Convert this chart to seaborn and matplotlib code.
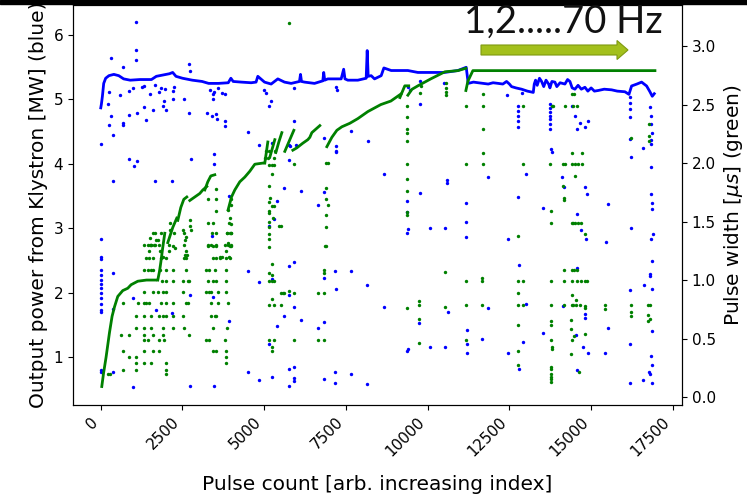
import matplotlib
matplotlib.use("Agg")
import matplotlib.pyplot as plt
from matplotlib.patches import FancyArrow, Rectangle
import pandas as pd
import seaborn as sns

# klystron output power, main track (pulse index, MW)
power_x = [0, 20, 50, 90, 150, 250, 400, 550, 700, 900, 1200, 1550, 1700, 1900, 2100, 2200,
           2300, 2500, 2800, 3100, 3300, 3600, 3900, 3980, 4050, 4300, 4600, 4750, 4804, 5009,
           5212, 5416, 5620, 5824, 6078, 6110, 6140, 6232, 6538, 6793, 6820, 6850, 6946, 7354,
           7430, 7470, 7558, 7864, 8119, 8150, 8180, 8272, 8374, 8578, 8660, 8884, 9394, 9700,
           10108, 10516, 10924, 11179, 11240, 11400, 11546, 11700, 11852, 12000, 12158, 12300,
           12413, 12500, 12566, 12700, 12872, 13050, 13230, 13260, 13300, 13350, 13420, 13485,
           13550, 13620, 13700, 13740, 13800, 13892, 13950, 14050, 14198, 14280, 14351, 14420,
           14504, 14600, 14700, 14810, 14900, 15000, 15100, 15218, 15400, 15626, 15800, 16034,
           16157, 16238, 16400, 16544, 16697, 16799, 16870, 16932]
power_y = [4.87, 4.93, 5.05, 5.25, 5.33, 5.37, 5.39, 5.37, 5.32, 5.30, 5.31, 5.31, 5.36, 5.38,
           5.40, 5.42, 5.36, 5.33, 5.30, 5.28, 5.25, 5.25, 5.26, 5.33, 5.28, 5.27, 5.26, 5.27,
           5.36, 5.27, 5.24, 5.32, 5.27, 5.25, 5.28, 5.39, 5.28, 5.27, 5.25, 5.29, 5.42, 5.30,
           5.32, 5.32, 5.47, 5.32, 5.30, 5.30, 5.33, 5.76, 5.36, 5.37, 5.32, 5.37, 5.49, 5.45,
           5.45, 5.42, 5.42, 5.42, 5.45, 5.50, 5.25, 5.27, 5.26, 5.25, 5.24, 5.26, 5.25, 5.24,
           5.28, 5.24, 5.20, 5.18, 5.16, 5.13, 5.11, 5.24, 5.30, 5.22, 5.33, 5.28, 5.20, 5.30,
           5.24, 5.18, 5.28, 5.27, 5.20, 5.26, 5.24, 5.31, 5.28, 5.18, 5.16, 5.22, 5.16, 5.19,
           5.13, 5.18, 5.13, 5.14, 5.16, 5.15, 5.13, 5.12, 5.08, 5.21, 5.24, 5.27, 5.21, 5.12,
           5.05, 5.09]

# scattered power readings (index, MW)
power_dots_left = [
    (1081, 6.20), (1081, 5.77), (1081, 5.61), (316, 5.65), (673, 5.50), (2693, 5.55), (2744, 5.45),
    (214, 4.93), (245, 5.11), (316, 4.75), (245, 4.61), (673, 4.64), (673, 4.60), (367, 4.45),
    (20, 4.31), (591, 5.07), (857, 5.13), (877, 4.76), (1102, 4.79), (1336, 4.88), (1387, 4.68),
    (1612, 4.84), (1918, 4.90), (1999, 4.84), (2203, 5.01), (1949, 4.98), (1795, 5.11), (1520, 5.08),
    (1336, 5.21), (1969, 5.16), (2203, 5.13), (2560, 5.01), (2693, 4.79), (3244, 4.79), (3407, 4.75),
    (3529, 4.77), (3550, 4.70), (3805, 4.67), (3805, 4.59), (3427, 5.01), (3427, 5.08), (3814, 5.08),
    (4519, 4.50), (4835, 4.30), (3468, 4.15), (3468, 4.00), (2764, 4.07), (877, 4.07), (1010, 3.96),
    (1112, 4.04), (367, 3.73), (1673, 3.74), (2183, 3.74), (3937, 3.50), (1000, 5.18), (1250, 5.20),
    (1650, 5.22), (1850, 5.18), (2250, 5.20), (3350, 5.15), (3450, 5.12), (3600, 5.18), (3700, 5.10),
    (10, 2.83), (10, 2.56), (10, 2.52), (10, 2.35), (10, 2.28), (10, 2.20), (10, 2.14), (10, 2.07),
    (10, 1.99), (10, 1.92), (10, 1.83), (10, 1.73), (10, 1.70), (10, 0.80), (10, 0.76),
    (367, 2.31), (367, 1.75), (367, 0.76), (1000, 1.91), (1693, 1.73), (2183, 1.69), (1000, 0.54),
    (2744, 1.97), (2744, 0.55), (3458, 0.55), (3427, 1.94), (3407, 2.88), (3917, 1.56), (4519, 2.34),
    (4835, 2.17), (4519, 0.76), (4835, 0.65),
]
power_dots_mid = [
    (5212, 4.98), (5140, 4.90), (5906, 4.67), (7640, 4.51), (8170, 4.36), (8660, 3.84), (9752, 4.93),
    (10598, 3.75), (10598, 3.70), (6130, 3.58), (5620, 3.62), (7181, 4.28), (7181, 4.20), (5783, 4.28),
    (9752, 3.55), (5253, 4.33), (5763, 4.29), (5957, 4.29), (5753, 4.06), (6833, 4.40), (7181, 4.19),
    (6833, 3.56), (6650, 3.36), (5396, 3.43), (5294, 3.14), (5150, 3.03), (5000, 5.15), (5050, 5.10),
    (5900, 5.18), (7200, 5.20), (7240, 5.15), (9400, 5.20), (9450, 5.15), (9750, 5.28), (10500, 5.25),
    (5906, 2.47), (5753, 2.42), (5242, 2.21), (5753, 1.97), (6834, 2.22), (7174, 2.34), (7645, 2.34),
    (7191, 2.05), (8150, 2.12), (8660, 1.77), (5896, 1.78), (5620, 1.64), (6130, 1.57), (6660, 1.45),
    (6834, 1.55), (5386, 1.48), (5160, 1.20), (5753, 0.81), (5906, 0.84), (5896, 0.68), (5896, 0.63),
    (5753, 0.55), (5243, 0.69), (6834, 0.66), (7171, 0.76), (7171, 0.59), (7640, 0.73), (8150, 0.58),
    (9354, 3.42), (9354, 3.26), (9404, 2.99), (9354, 2.92), (10067, 3.01), (10536, 3.01),
    (11179, 3.39), (11179, 3.10), (11179, 2.87), (10619, 1.70), (9740, 1.53), (11189, 1.42),
    (11189, 1.21), (11189, 1.07), (9364, 1.09), (9400, 1.13), (10057, 1.16), (10536, 1.16),
]
power_dots_right = [
    (11832, 3.79), (12995, 3.84), (12750, 3.49), (12750, 4.90), (12750, 4.82), (12750, 4.74),
    (12750, 4.66), (12750, 4.57), (13739, 4.93), (13739, 4.87), (13739, 4.81), (13739, 4.75),
    (13739, 4.69), (13739, 4.62), (13739, 4.54), (13770, 4.23), (13800, 4.18), (14100, 3.80),
    (14160, 3.64), (14422, 4.90), (14504, 4.75), (14657, 4.64), (14892, 4.66), (14810, 4.58),
    (14555, 4.54), (14810, 3.64), (14860, 3.53), (16187, 5.04), (16187, 4.95), (16187, 4.86),
    (16187, 4.73), (16187, 4.39), (16208, 4.10), (16595, 4.25), (16799, 4.88), (16830, 4.75),
    (16830, 4.62), (16860, 4.48), (16830, 4.37), (16830, 4.31), (16820, 3.95), (16820, 3.53),
    (12413, 5.07), (12872, 5.10), (13516, 3.32), (14557, 3.22), (14688, 2.97), (14841, 2.83),
    (15524, 3.37), (16850, 3.39), (16850, 3.30), (12464, 2.83), (15442, 2.79), (16218, 3.00),
    (16881, 2.91), (16830, 2.83), (12790, 2.43), (16870, 2.49), (16799, 2.29), (16799, 2.26),
    (16615, 2.12), (16187, 2.04), (16850, 2.06), (14555, 2.38), (13005, 1.83), (11853, 1.76),
    (14147, 1.80), (14810, 1.67), (14810, 1.60), (11669, 1.28), (13516, 1.38), (15524, 1.45),
    (16850, 1.40), (14535, 1.35), (12924, 1.24), (14759, 1.16), (14892, 1.07), (12464, 1.06),
    (15422, 1.07), (16187, 1.21), (16830, 1.02), (16870, 0.87), (12790, 0.82), (14555, 0.80),
    (16779, 0.76), (16810, 0.74), (16187, 0.60), (16585, 0.64), (16850, 0.60),
]

# pulse width ramps (index, us), one list per ramp
width_ramps = [
    [(31, 0.09), (83, 0.20), (162, 0.34), (266, 0.55), (346, 0.69), (419, 0.77), (520, 0.86),
     (673, 0.91), (826, 0.93), (928, 0.96), (1132, 0.99), (1400, 1.00), (1683, 1.00)],
    [(1744, 1.00), (1800, 1.08), (1836, 1.15), (1897, 1.28), (1958, 1.40)],
    [(2050, 1.32), (2203, 1.45), (2326, 1.53)],
    [(2356, 1.51), (2448, 1.62), (2540, 1.69), (2632, 1.71)],
    [(2723, 1.68), (2876, 1.71), (3029, 1.74), (3121, 1.77), (3244, 1.80)],
    [(3182, 1.77), (3274, 1.84), (3366, 1.89), (3488, 1.90)],
    [(3895, 1.60), (3999, 1.71), (4100, 1.77), (4253, 1.84), (4406, 1.88), (4559, 1.93),
     (4712, 1.99), (4966, 2.00)],
    [(5018, 2.00), (5110, 2.18)],
    [(5171, 2.05), (5324, 2.20)],
    [(5355, 2.09), (5447, 2.18), (5539, 2.26)],
    [(5630, 2.10), (5783, 2.20), (5906, 2.28)],
    [(5875, 2.11), (5998, 2.13), (6181, 2.17), (6334, 2.20), (6395, 2.22), (6457, 2.26), (6701, 2.32)],
    [(6916, 2.14), (7069, 2.22), (7222, 2.28), (7375, 2.31), (7619, 2.34), (7864, 2.38),
     (8170, 2.44), (8568, 2.50), (8874, 2.53), (9180, 2.59)],
    [(9150, 2.56), (9300, 2.66), (9420, 2.66)],
    [(9394, 2.58), (9517, 2.63), (9700, 2.66), (10098, 2.72), (10526, 2.78), (10924, 2.79),
     (11169, 2.81)],
    [(11169, 2.62), (11230, 2.70), (11383, 2.79), (16952, 2.79)],
]

# scattered pulse width readings (index, us)
width_dots_left = [
    (1591, 1.40), (1845, 1.40), (2255, 1.40), (2561, 1.40), (3406, 1.40), (3856, 1.40), (3987, 1.40),
    (1700, 1.34), (1760, 1.34),
    (1337, 1.30), (1438, 1.30), (1539, 1.30), (1643, 1.30), (1796, 1.30), (2102, 1.30), (2531, 1.30),
    (3274, 1.30), (3375, 1.30), (3528, 1.30), (3785, 1.30), (3886, 1.30), (3987, 1.30),
    (1490, 1.25), (1815, 1.25), (2102, 1.25), (2610, 1.25), (3834, 1.25),
    (1386, 1.19), (1490, 1.19), (1591, 1.19), (1845, 1.19), (1998, 1.19), (2561, 1.19), (2610, 1.19),
    (3427, 1.19), (3528, 1.19), (3632, 1.19), (3834, 1.19), (3938, 1.19),
    (1337, 1.09), (1438, 1.09), (1539, 1.09), (1591, 1.09), (1815, 1.09), (1998, 1.09), (2203, 1.09),
    (2610, 1.09), (3222, 1.09), (3326, 1.09), (3479, 1.09), (3834, 1.09),
    (1876, 0.99), (1998, 0.99), (2203, 0.99), (2509, 0.99), (2662, 0.99), (2714, 0.99), (3274, 0.99),
    (3427, 0.99), (3528, 0.99), (3834, 0.99),
    (1337, 0.90), (1591, 0.90), (1744, 0.90), (1897, 0.90), (1998, 0.90), (2509, 0.90), (3222, 0.90),
    (3326, 0.90), (3375, 0.90), (3580, 0.90), (3834, 0.90),
    (673, 0.80), (1132, 0.80), (1337, 0.80), (1386, 0.80), (1490, 0.80), (1845, 0.80), (1998, 0.80),
    (2203, 0.80), (2610, 0.80), (2662, 0.80), (3375, 0.80), (3580, 0.80), (3886, 0.80),
    (1080, 0.69), (1337, 0.69), (1539, 0.69), (1796, 0.69), (1897, 0.69), (1998, 0.69), (2203, 0.69),
    (2509, 0.69), (3375, 0.69), (3479, 0.69), (3528, 0.69),
    (1080, 0.59), (1337, 0.59), (1539, 0.59), (1897, 0.59), (2203, 0.59), (2561, 0.59), (3427, 0.59),
    (3856, 0.59),
    (621, 0.53), (878, 0.53), (1337, 0.53), (1591, 0.53), (1897, 0.53), (2714, 0.53),
    (1337, 0.49), (1438, 0.49), (1796, 0.49), (1949, 0.49), (3222, 0.49), (3326, 0.49), (3785, 0.49),
    (673, 0.39), (1337, 0.39), (1591, 0.39), (1796, 0.39), (3427, 0.39), (3528, 0.39), (3834, 0.39),
    (878, 0.34), (1080, 0.34), (3834, 0.34),
    (1080, 0.29), (1337, 0.29), (1539, 0.29), (1998, 0.29), (3834, 0.29),
    (673, 0.23), (1080, 0.23), (214, 0.20), (275, 0.20), (1998, 0.20), (1998, 0.23),
    (3284, 1.69), (3519, 1.69), (3519, 1.59), (3284, 1.49), (3437, 1.49), (3540, 1.40), (3284, 1.29),
    (3437, 1.29), (3540, 1.29), (3519, 1.78), (3641, 1.20), (3723, 1.20),
    (2570, 1.21), (2641, 1.21), (1907, 1.20), (1499, 1.30), (1550, 1.30), (1652, 1.30), (1652, 1.40),
    (1499, 1.36), (2111, 1.49), (2111, 1.43), (2213, 1.29), (2264, 1.27), (2519, 1.43), (2570, 1.34),
    (2622, 1.37), (2723, 1.51), (2723, 1.46), (2774, 1.43),
    (3896, 1.60), (3947, 1.53), (3916, 1.49), (3978, 1.48), (3865, 1.40), (3947, 1.40), (3978, 1.40),
    (3896, 1.32), (3947, 1.29), (3978, 1.29), (3916, 1.20), (3978, 1.69), (3978, 1.64),
]
width_dots_mid = [
    (5141, 1.80), (5141, 1.67), (5141, 1.57), (5160, 1.45), (5141, 1.35), (5141, 1.28), (5232, 1.63),
    (5273, 1.53), (5242, 1.91), (5140, 1.98), (5232, 1.98), (5303, 1.98), (5017, 2.04), (5119, 2.04),
    (5293, 2.04), (5048, 2.10), (5150, 2.10), (5324, 2.10), (5466, 1.46), (6895, 2.00), (6946, 2.00),
    (6895, 1.79), (6956, 1.64), (6895, 1.56), (6895, 1.45), (6895, 1.29), (5753, 3.20),
    (9360, 2.49), (9360, 2.39), (9360, 2.29), (9360, 2.26), (9360, 2.19), (9360, 1.99), (9360, 1.86),
    (9360, 1.76), (11179, 2.49), (11179, 1.99), (10548, 2.68), (10548, 2.64), (10548, 2.61),
    (10548, 2.58), (9782, 2.66), (9752, 2.60), (5162, 1.70), (5906, 1.99), (6895, 1.69),
    (5141, 1.59), (5284, 1.63), (5141, 1.50), (5518, 1.46), (5141, 1.39), (5242, 1.14), (5141, 1.06),
    (5242, 1.04), (5141, 0.99), (5242, 0.99), (5284, 0.99), (5518, 0.89), (5569, 0.89), (5620, 0.89),
    (5753, 0.91), (5906, 0.89), (5242, 0.84), (5141, 0.79), (5284, 0.79), (5518, 0.79), (5141, 0.49),
    (5284, 0.49), (5906, 0.49), (5242, 0.43), (5242, 0.39), (6640, 0.89), (6824, 0.89), (6834, 1.09),
    (6834, 1.06), (6640, 0.49), (6824, 0.49), (6860, 1.29), (9354, 1.58), (9354, 1.56), (9354, 0.76),
    (9740, 0.82), (9740, 0.79), (9740, 0.67), (9740, 0.46), (10536, 1.07), (10536, 0.77),
    (11179, 0.99), (11179, 0.79), (11179, 0.49),
]
width_dots_right = [
    (11698, 2.49), (11698, 2.59), (11698, 2.29), (11698, 2.09), (11698, 1.99), (12922, 2.49),
    (12922, 1.99), (13791, 2.49), (13840, 2.49), (14198, 2.49), (14453, 2.49), (14555, 2.49),
    (14422, 2.59), (14484, 2.59), (13739, 1.99), (14147, 1.99), (14198, 1.99), (14402, 1.99),
    (14504, 1.99), (14586, 1.99), (14708, 1.99), (14402, 2.09), (14708, 2.09), (14504, 1.89),
    (14128, 1.80), (14177, 1.70), (16218, 2.21), (16778, 2.33), (16778, 2.23), (16778, 2.19),
    (13770, 1.59), (13770, 1.49), (14177, 1.68), (14402, 1.49), (14453, 1.49), (14504, 1.49),
    (14586, 1.49), (14688, 1.49), (14810, 1.39), (12770, 1.38), (14177, 1.09), (14402, 1.09),
    (14484, 1.09), (14565, 1.09), (11669, 1.02), (11669, 0.99), (12770, 0.99), (12922, 0.99),
    (13770, 0.99), (14177, 0.99), (14402, 0.99), (14555, 0.99), (14688, 0.99), (14800, 0.99),
    (14861, 0.99), (12770, 0.89), (14402, 0.87), (14535, 0.83), (11669, 0.79), (12770, 0.79),
    (12922, 0.79), (13770, 0.79), (14177, 0.79), (14402, 0.79), (14453, 0.79), (14535, 0.79),
    (14657, 0.79), (14810, 0.78), (15422, 0.79), (16218, 0.79), (16748, 0.79), (16799, 0.79),
    (15422, 0.75), (16218, 0.73), (16218, 0.69), (14810, 0.76), (16748, 0.70), (16789, 0.67),
    (16748, 0.65), (13770, 0.65), (13770, 0.62), (12770, 0.62), (14382, 0.66), (14382, 0.58),
    (14810, 0.54), (14402, 0.49), (14484, 0.52), (13770, 0.49), (13790, 0.43), (13790, 0.41),
    (12770, 0.39), (14382, 0.37), (12770, 0.27), (14637, 0.21), (13770, 0.26), (13770, 0.24),
    (13770, 0.20), (13770, 0.17), (13770, 0.15), (13770, 0.13),
]

x_ticks = [0, 2500, 5000, 7500, 10000, 12500, 15000, 17500]
power_ticks = [1, 2, 3, 4, 5, 6]
width_ticks = [0.0, 0.5, 1.0, 1.5, 2.0, 2.5, 3.0]

# tables for seaborn
power_line = pd.DataFrame({"x": power_x, "y": power_y})
power_dots = pd.DataFrame(power_dots_left + power_dots_mid + power_dots_right, columns=["x", "y"])
rows = []
for i, ramp in enumerate(width_ramps):
    for px, py in ramp:
        rows.append((px, py, i))
width_line = pd.DataFrame(rows, columns=["x", "y", "ramp"])
width_dots = pd.DataFrame(width_dots_left + width_dots_mid + width_dots_right, columns=["x", "y"])

fig = plt.figure(figsize=(7.47, 4.97), dpi=100)
ax = fig.add_axes([0.0977, 0.1851, 0.8153, 0.8058])
ax2 = ax.twinx()

sns.scatterplot(data=power_dots, x="x", y="y", ax=ax, color="b", s=6, linewidth=0)
sns.lineplot(data=power_line, x="x", y="y", ax=ax, color="b", lw=2.0, sort=False, estimator=None)

sns.scatterplot(data=width_dots, x="x", y="y", ax=ax2, color="g", s=6, linewidth=0)
sns.lineplot(data=width_line, x="x", y="y", units="ramp", estimator=None, sort=False,
             ax=ax2, color="g", lw=2.0)

ax.set_xlim(-850, 17780)
ax.set_ylim(0.255, 6.475)
ax2.set_ylim(-0.068, 3.355)
ax.set_xticks(x_ticks)
ax.set_yticks(power_ticks)
ax2.set_yticks(width_ticks)
ax.tick_params(labelsize=11)
ax2.tick_params(labelsize=11)
plt.setp(ax.get_xticklabels(), rotation=45, ha="right")

ax.set_xlabel("Pulse count [arb. increasing index]", fontsize=14.5, labelpad=11)
ax.set_ylabel("Output power from Klystron [MW] (blue)", fontsize=14.5)
ax2.set_ylabel(r"Pulse width [$\mu s$] (green)", fontsize=14.5)
ax2.set_xlabel("")

# frequency annotation with arrow
fig.text(464 / 747, 1 - 33 / 497, "1,2.....70 Hz", fontsize=27.5, family="Lato",
         color="#111111", ha="left", va="baseline")
fig.add_artist(FancyArrow(481 / 747, 1 - 50 / 497, 136 / 747, 0, width=10 / 497,
                          head_width=19 / 497, head_length=11 / 747,
                          length_includes_head=False, transform=fig.transFigure,
                          facecolor="#a3c01c", edgecolor="#7f9a10", lw=0.8))
fig.add_artist(Rectangle((0, 1 - 3.5 / 497), 1, 3.5 / 497, transform=fig.transFigure,
                         color="black"))

fig.savefig("out.png", dpi=100)
